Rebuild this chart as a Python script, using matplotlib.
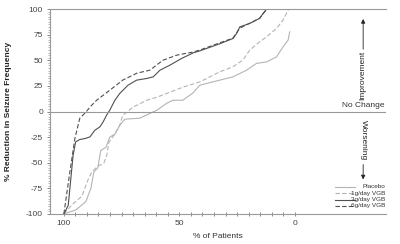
import matplotlib
matplotlib.use("Agg")
import matplotlib.pyplot as plt
from matplotlib.lines import Line2D

plt.rcParams['font.family'] = ['Liberation Sans', 'DejaVu Sans']
plt.rcParams['axes.unicode_minus'] = False

# % of patients (x) vs % reduction in seizure frequency (y)
placebo_x = [100, 94.8, 90.5, 88.3, 87.0, 85.3, 84.0, 81.8, 80.1, 77.9, 75.8, 73.6, 67.1, 59.7, 55.4,
             52.8, 48.5, 44.2, 41.1, 32.5, 26.8, 20.9, 16.6, 12.2, 7.9, 5.1, 2.9, 2.2]
placebo_y = [-100, -96, -88, -75, -59, -55, -38, -35, -25, -22, -13.5, -7.5, -6.5, 1.3, 8.1,
             11, 11, 17.9, 25.7, 30.6, 33.8, 40.3, 46.9, 48.4, 53.3, 63.1, 69.6, 77.7]

g1_x = [100, 96.5, 92.2, 89.6, 87.9, 85.3, 82.7, 81.4, 80.5, 77.9, 75.8, 74.5, 72.7, 70.1, 64.1,
        59.7, 54.1, 48.5, 41.1, 32.5, 26.8, 22.5, 19.5, 15.2, 12.2, 7.9, 5.1, 3.6, 2.6]
g1_y = [-100, -91, -82.7, -67, -59, -53.4, -50.5, -42.7, -30, -22, -13.5, -3.6, -0.7, 4.2, 11,
        14, 18.8, 23.7, 28.9, 38.7, 43.6, 50.1, 59.9, 68, 72.9, 81.1, 89.2, 95.7, 100]

g3_x = [100, 98.1, 96.7, 96.0, 94.9, 93.1, 90.9, 88.7, 86.6, 84.4, 83.0, 81.5, 80.1, 77.9, 75.8,
        72.2, 68.5, 64.2, 61.3, 58.4, 54.1, 49.0, 44.0, 41.1, 32.5, 26.7, 25.2, 23.8, 19.5,
        15.2, 13.7, 12.2]
g3_y = [-100, -91.5, -59, -42.7, -29.7, -27.3, -26.4, -24.8, -18.3, -15, -10.2, -3.6, 1.3, 11, 17.6,
        25.7, 30.6, 32.2, 33.8, 40.3, 45.2, 51.8, 57.2, 59.2, 66.1, 71.3, 76.2, 82.6, 86,
        90.9, 95.8, 100]

g6_x = [100, 97.4, 95.2, 93.1, 90.9, 88.0, 85.8, 80.1, 74.5, 68.4, 62.8, 57.1, 51.1, 44.2, 41.1,
        26.8, 23.8, 15.2, 12.1]
g6_y = [-100, -59, -26, -6.6, -1.7, 6, 11, 20.8, 30.6, 37.4, 40.3, 50, 55, 58, 60,
        71.6, 81.3, 91, 100]

labels = ['Placebo', '1g/day VGB', '3g/day VGB', '6g/day VGB']
colors = ['#b4b4b4', '#b4b4b4', '#505050', '#505050']
styles = ['-', (0, (4, 2)), '-', (0, (4, 2))]

fig = plt.figure(figsize=(4.0, 2.44), dpi=100)
ax = fig.add_axes([0.125, 0.123, 0.84, 0.840])

series = [(placebo_x, placebo_y), (g1_x, g1_y), (g3_x, g3_y), (g6_x, g6_y)]
for (xs, ys), c, ls in zip(series, colors, styles):
    ax.plot(xs, ys, color=c, linestyle=ls, linewidth=0.8)

ax.axhline(0, color='#999999', linewidth=0.8)

ax.set_xlim(106, -39.5)
ax.set_ylim(-100, 100)

ax.spines['right'].set_visible(False)
for s in ['left', 'bottom', 'top']:
    ax.spines[s].set_color('#999999')
    ax.spines[s].set_linewidth(0.8)

ax.set_xticks([100, 50, 0])
ax.set_xticks(list(range(0, 101, 5)), minor=True)
ax.set_yticks(list(range(-100, 101, 25)))
ax.set_yticks([v * 2.5 for v in range(-40, 41)], minor=True)
ax.tick_params(axis='x', which='both', direction='inout', length=3, width=0.6,
               color='#777777', labelsize=6, labelcolor='#444444', pad=3)
ax.tick_params(axis='y', which='major', direction='out', length=2, width=0.6,
               color='#777777', labelsize=6, labelcolor='#444444', pad=3)
ax.tick_params(axis='y', which='minor', direction='out', length=1.2, width=0.5, color='#999999')

ax.set_xlabel('% of Patients', fontsize=6, color='#333333', labelpad=4)
ax.set_ylabel('% Reduction in Seizure Frequency', fontsize=6, color='#222222',
              fontweight='bold', labelpad=10)

# No change label
ax.text(0.997, 2, 'No Change', transform=ax.get_yaxis_transform(), ha='right', va='bottom',
        fontsize=6, color='#333333')

# Improvement / Worsening annotations
ax.text(0.932, 0.675, 'Improvement', transform=ax.transAxes, rotation=90,
        ha='center', va='center', fontsize=6, color='#222222')
ax.annotate('', xy=(0.932, 0.965), xytext=(0.932, 0.79), xycoords='axes fraction',
            arrowprops=dict(arrowstyle='-|>', color='#222222', lw=0.6, mutation_scale=6))
ax.text(0.932, 0.36, 'Worsening', transform=ax.transAxes, rotation=270,
        ha='center', va='center', fontsize=6, color='#222222')
ax.annotate('', xy=(0.932, 0.155), xytext=(0.932, 0.255), xycoords='axes fraction',
            arrowprops=dict(arrowstyle='-|>', color='#222222', lw=0.6, mutation_scale=6))

# Legend (manual, right-aligned text)
row_y = [0.132, 0.101, 0.070, 0.039]
for lab, c, ls, yy in zip(labels, colors, styles, row_y):
    ax.add_line(Line2D([0.848, 0.908], [yy, yy], transform=ax.transAxes, color=c,
                       linestyle=ls, linewidth=0.8))
    ax.text(0.997, yy, lab, transform=ax.transAxes, ha='right', va='center',
            fontsize=4.6, color='#333333')

fig.savefig('out.png', dpi=100)
